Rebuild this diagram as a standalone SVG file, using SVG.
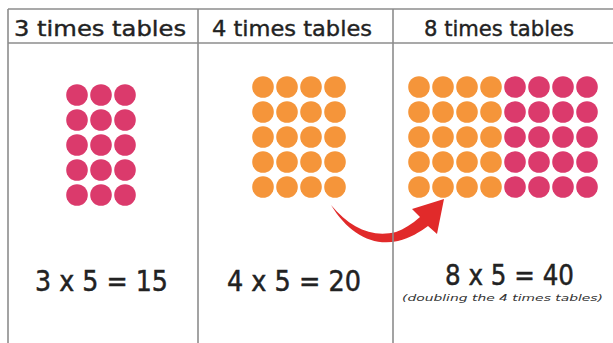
<svg xmlns="http://www.w3.org/2000/svg" width="613" height="343" viewBox="0 0 613 343">
<style>
.grid{stroke:#8c8c8c;stroke-width:1.6;fill:none}
.hd{font-family:"DejaVu Sans",sans-serif;font-size:22px;fill:#222;stroke:#222;stroke-width:0.4}
.eq{font-family:"DejaVu Sans",sans-serif;font-size:29px;fill:#222;stroke:#222;stroke-width:0.5}
.sub{font-family:"DejaVu Sans",sans-serif;font-size:8.5px;font-style:italic;fill:#333}
.pk{fill:#db3a6c}
.or{fill:#f5953a}
</style>
<defs>
<circle id="p" r="10.8" class="pk"/>
<circle id="o" r="10.8" class="or"/>
</defs>
<rect width="613" height="343" fill="#fff"/>
<g id="connectors">
<path id="arrow" fill="#e12a2a" d="M331,205 C348,233 372,247 398,241 C410,238 420,232 428,226 L437,234 L444,199 L412,209 L420,217 C412,224 404,229 396,232 C372,238 350,228 331,205 Z"/>
</g>
<g id="table" class="grid">
<line x1="8" y1="9" x2="613" y2="9"/>
<line x1="8" y1="43" x2="613" y2="43"/>
<line x1="8" y1="9" x2="8" y2="343"/>
<line x1="198" y1="9" x2="198" y2="343"/>
<line x1="393" y1="9" x2="393" y2="343"/>
</g>
<g id="cell3">
<text class="hd" x="14" y="36" textLength="172" lengthAdjust="spacingAndGlyphs">3 times tables</text>
<g id="dots3">
<use href="#p" x="77" y="95"/><use href="#p" x="101" y="95"/><use href="#p" x="125" y="95"/>
<use href="#p" x="77" y="120"/><use href="#p" x="101" y="120"/><use href="#p" x="125" y="120"/>
<use href="#p" x="77" y="145"/><use href="#p" x="101" y="145"/><use href="#p" x="125" y="145"/>
<use href="#p" x="77" y="170"/><use href="#p" x="101" y="170"/><use href="#p" x="125" y="170"/>
<use href="#p" x="77" y="195"/><use href="#p" x="101" y="195"/><use href="#p" x="125" y="195"/>
</g>
<text class="eq" x="35" y="291" textLength="133" lengthAdjust="spacingAndGlyphs">3 x 5 = 15</text>
</g>
<g id="cell4">
<text class="hd" x="212" y="36" textLength="160" lengthAdjust="spacingAndGlyphs">4 times tables</text>
<g id="dots4">
<use href="#o" x="263" y="87"/><use href="#o" x="287" y="87"/><use href="#o" x="311" y="87"/><use href="#o" x="335" y="87"/>
<use href="#o" x="263" y="112"/><use href="#o" x="287" y="112"/><use href="#o" x="311" y="112"/><use href="#o" x="335" y="112"/>
<use href="#o" x="263" y="137"/><use href="#o" x="287" y="137"/><use href="#o" x="311" y="137"/><use href="#o" x="335" y="137"/>
<use href="#o" x="263" y="162"/><use href="#o" x="287" y="162"/><use href="#o" x="311" y="162"/><use href="#o" x="335" y="162"/>
<use href="#o" x="263" y="187"/><use href="#o" x="287" y="187"/><use href="#o" x="311" y="187"/><use href="#o" x="335" y="187"/>
</g>
<text class="eq" x="227" y="291" textLength="134" lengthAdjust="spacingAndGlyphs">4 x 5 = 20</text>
</g>
<g id="cell8">
<text class="hd" x="424" y="36" textLength="150" lengthAdjust="spacingAndGlyphs">8 times tables</text>
<g id="dots8">
<use href="#o" x="419" y="87"/><use href="#o" x="443" y="87"/><use href="#o" x="467" y="87"/><use href="#o" x="491" y="87"/>
<use href="#p" x="515" y="87"/><use href="#p" x="539" y="87"/><use href="#p" x="563" y="87"/><use href="#p" x="587" y="87"/>
<use href="#o" x="419" y="112"/><use href="#o" x="443" y="112"/><use href="#o" x="467" y="112"/><use href="#o" x="491" y="112"/>
<use href="#p" x="515" y="112"/><use href="#p" x="539" y="112"/><use href="#p" x="563" y="112"/><use href="#p" x="587" y="112"/>
<use href="#o" x="419" y="137"/><use href="#o" x="443" y="137"/><use href="#o" x="467" y="137"/><use href="#o" x="491" y="137"/>
<use href="#p" x="515" y="137"/><use href="#p" x="539" y="137"/><use href="#p" x="563" y="137"/><use href="#p" x="587" y="137"/>
<use href="#o" x="419" y="162"/><use href="#o" x="443" y="162"/><use href="#o" x="467" y="162"/><use href="#o" x="491" y="162"/>
<use href="#p" x="515" y="162"/><use href="#p" x="539" y="162"/><use href="#p" x="563" y="162"/><use href="#p" x="587" y="162"/>
<use href="#o" x="419" y="187"/><use href="#o" x="443" y="187"/><use href="#o" x="467" y="187"/><use href="#o" x="491" y="187"/>
<use href="#p" x="515" y="187"/><use href="#p" x="539" y="187"/><use href="#p" x="563" y="187"/><use href="#p" x="587" y="187"/>
</g>
<text class="eq" x="445" y="285" textLength="129" lengthAdjust="spacingAndGlyphs">8 x 5 = 40</text>
<text class="sub" x="402" y="301" textLength="201" lengthAdjust="spacingAndGlyphs">(doubling the 4 times tables)</text>
</g>
</svg>
